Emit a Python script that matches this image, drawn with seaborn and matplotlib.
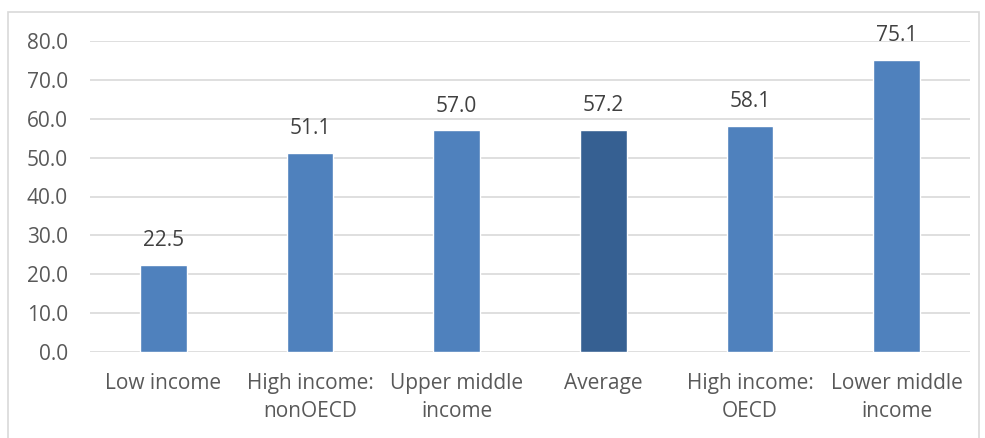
import matplotlib
matplotlib.use("Agg")
import matplotlib.pyplot as plt
import seaborn as sns
import pandas as pd
from matplotlib.patches import Rectangle

categories = ["Low income", "High income:\nnonOECD", "Upper middle\nincome", "Average",
              "High income:\nOECD", "Lower middle\nincome"]
values = [22.5, 51.1, 57.0, 57.2, 58.1, 75.1]
yticks = [0, 10, 20, 30, 40, 50, 60, 70, 80]

sns.set_theme(style="white")
plt.rcParams['font.family'] = ['Open Sans', 'DejaVu Sans']

df = pd.DataFrame({"cat": categories, "val": values})
palette = ["#4F81BD", "#4F81BD", "#4F81BD", "#366092", "#4F81BD", "#4F81BD"]

fig = plt.figure(figsize=(9.85, 4.38), dpi=100)
ax = fig.add_axes([90/985, 1 - 352/438, 880/985, (352-41)/438])
sns.barplot(data=df, x="cat", y="val", hue="cat", palette=palette, legend=False,
            width=0.32, ax=ax, zorder=3, saturation=1)

ax.set_ylim(0, 80)
ax.set_xlim(-0.5, len(categories) - 0.5)
ax.set_yticks(yticks)
ax.set_yticklabels([f"{v:.1f}" for v in yticks])
ax.yaxis.grid(True, color="#D9D9D9", linewidth=1.2, zorder=0)
ax.set_axisbelow(True)
for s in ax.spines.values():
    s.set_visible(False)
ax.set_xlabel("")
ax.set_ylabel("")
ax.tick_params(axis="y", length=0, pad=16, labelsize=15, labelcolor="#595959")
ax.tick_params(axis="x", length=0, pad=15, labelsize=15, labelcolor="#595959")
for lbl in ax.get_xticklabels():
    lbl.set_linespacing(1.45)

for i, v in enumerate(values):
    ax.annotate(f"{v:.1f}", (i, v), xytext=(0, 10), textcoords="offset points",
                ha="center", va="bottom", fontsize=15, color="#404040", clip_on=False)

fig.patches.append(Rectangle((8/985, -0.05), (979-8)/985, 1.05 - 12/438,
                             transform=fig.transFigure, fill=False,
                             edgecolor="#D9D9D9", linewidth=1.2))

fig.savefig("out.png", dpi=100)
